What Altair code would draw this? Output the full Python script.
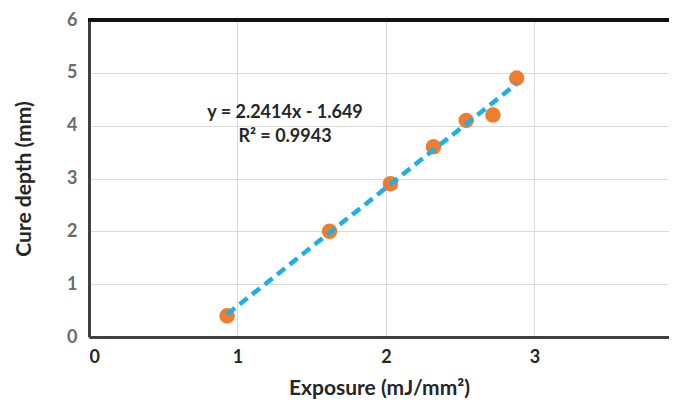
import altair as alt
import pandas as pd

exposure = [0.93, 1.62, 2.03, 2.32, 2.54, 2.72, 2.88]
cure_depth = [0.4, 2.0, 2.9, 3.6, 4.1, 4.2, 4.9]
eq_lines = ["y = 2.2414x - 1.649", "R² = 0.9943"]
eq_x = [1.32, 1.32]
eq_y = [4.24, 3.79]
x_ticks = [0, 1, 2, 3]
y_ticks = [0, 1, 2, 3, 4, 5, 6]

df = pd.DataFrame({"x": exposure, "y": cure_depth})
tdf = pd.DataFrame({"x": eq_x, "y": eq_y, "t": eq_lines})

FONT = "Lato"

xscale = alt.Scale(domain=[0, 3.906], nice=False)
yscale = alt.Scale(domain=[0, 6], nice=False)

xenc = alt.X("x:Q", scale=xscale, title="Exposure (mJ/mm²)",
             axis=alt.Axis(values=x_ticks, format="d", labelFontSize=18, labelFont=FONT,
                           labelFontWeight="bold", labelColor="#262626", labelPadding=11,
                           ticks=False, domain=True, domainColor="#404040", domainWidth=3,
                           grid=True, gridColor="#D9D9D9",
                           titleFont=FONT, titleFontSize=21, titleFontWeight="bold",
                           titleColor="#262626", titlePadding=11))
yenc = alt.Y("y:Q", scale=yscale, title="Cure depth (mm)",
             axis=alt.Axis(values=y_ticks, format="d", labelFontSize=18, labelFont=FONT,
                           labelFontWeight="bold", labelColor="#6b6b6b", labelPadding=12,
                           ticks=False, domain=True, domainColor="#404040", domainWidth=3,
                           grid=True, gridColor="#D9D9D9",
                           titleFont=FONT, titleFontSize=21, titleFontWeight="bold",
                           titleColor="#262626", titlePadding=32))

pts = alt.Chart(df).mark_circle(size=240, color="#ED7D31", opacity=1).encode(x=xenc, y=yenc)

trend = alt.Chart(df).transform_regression("x", "y").mark_line(
    color="#1CB0E6", strokeWidth=4.5, strokeDash=[10, 6]
).encode(x=alt.X("x:Q", scale=xscale), y=alt.Y("y:Q", scale=yscale))

txt = alt.Chart(tdf).mark_text(font=FONT, fontSize=18, fontWeight="bold", color="#262626",
                                align="center", baseline="middle").encode(
    x=alt.X("x:Q", scale=xscale), y=alt.Y("y:Q", scale=yscale), text="t:N")

top_border = alt.Chart(df).mark_rule(color="#111111", strokeWidth=3).encode(
    y=alt.Y("max_y:Q", scale=yscale),
    x=alt.value(-1), x2=alt.value(600)
).transform_calculate(max_y="6")

chart = alt.layer(pts, trend, txt, top_border).properties(
    width=580, height=317,
    autosize=alt.AutoSizeParams(type="none"),
    padding={"left": 81, "top": 12, "right": 0, "bottom": 65},
).configure_view(stroke=None).configure(background="white")

chart.save("out.html", embed_options={"renderer": "svg", "actions": False})
